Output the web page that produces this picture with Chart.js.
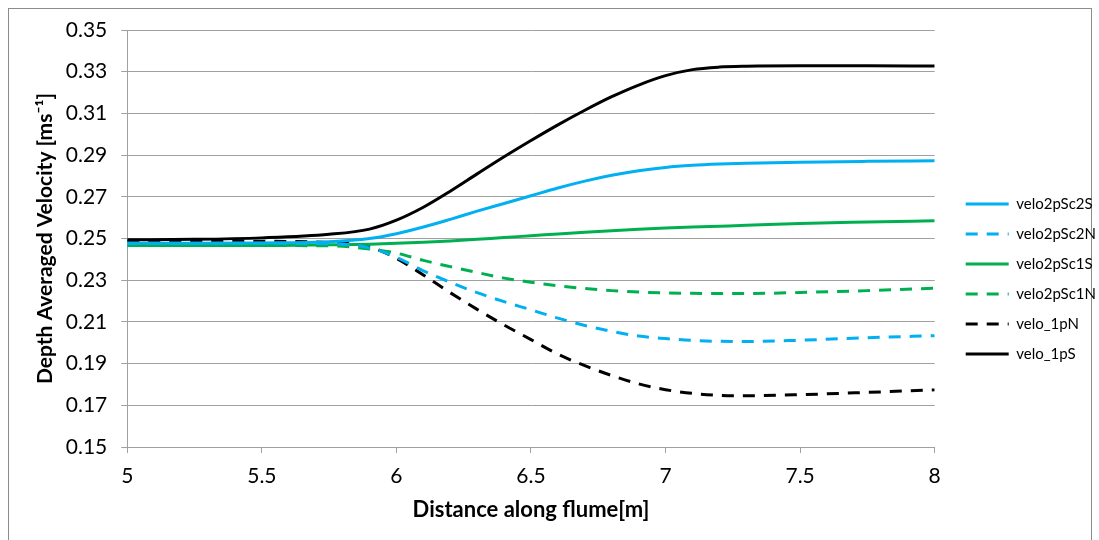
<!DOCTYPE html>
<html>
<head>
<meta charset="utf-8">
<script src="https://cdn.jsdelivr.net/npm/chart.js@4/dist/chart.umd.min.js"></script>
<style>
  html, body { margin: 0; padding: 0; background: #fff; }
  #wrap { width: 1099px; height: 540px; position: relative; }
</style>
</head>
<body>
<div id="wrap"><canvas id="myChart" width="1099" height="540"></canvas></div>
<script>
// distance along flume [m]
let distance = [5, 5.25, 5.5, 5.75, 5.9, 6, 6.1, 6.2, 6.3, 6.4, 6.5, 6.6, 6.7, 6.8, 6.9, 7, 7.1, 7.2, 7.3, 7.5, 7.75, 8]

let velo2pSc2S = [0.2477, 0.2477, 0.2479, 0.2485, 0.2500, 0.2523, 0.2555, 0.2592, 0.2631, 0.2668, 0.2705, 0.2742, 0.2775, 0.2803, 0.2825, 0.2841, 0.2851, 0.2857, 0.2861, 0.2866, 0.2870, 0.2873]
let velo2pSc2N = [0.2477, 0.2477, 0.2477, 0.2475, 0.2455, 0.2410, 0.2345, 0.2290, 0.2240, 0.2197, 0.2158, 0.2118, 0.2083, 0.2055, 0.2032, 0.2020, 0.2011, 0.2007, 0.2006, 0.2012, 0.2024, 0.2034]
let velo2pSc1S = [0.2466, 0.2466, 0.2466, 0.2470, 0.2473, 0.2477, 0.2482, 0.2488, 0.2496, 0.2505, 0.2513, 0.2522, 0.2530, 0.2537, 0.2544, 0.2550, 0.2555, 0.2559, 0.2563, 0.2572, 0.2579, 0.2585]
let velo2pSc1N = [0.2466, 0.2466, 0.2466, 0.2465, 0.2450, 0.2430, 0.2395, 0.2365, 0.2337, 0.2310, 0.2290, 0.2273, 0.2260, 0.2250, 0.2243, 0.2239, 0.2237, 0.2236, 0.2236, 0.2241, 0.2250, 0.2262]
let velo_1pN   = [0.2488, 0.2488, 0.2487, 0.2480, 0.2460, 0.2405, 0.2325, 0.2240, 0.2160, 0.2085, 0.2015, 0.1945, 0.1890, 0.1843, 0.1803, 0.1775, 0.1757, 0.1748, 0.1746, 0.1751, 0.1762, 0.1774]
let velo_1pS   = [0.2494, 0.2496, 0.2503, 0.2520, 0.2545, 0.2588, 0.2650, 0.2727, 0.2810, 0.2892, 0.2970, 0.3045, 0.3115, 0.3180, 0.3236, 0.3281, 0.3310, 0.3322, 0.3326, 0.3328, 0.3328, 0.3327]

let yTicks = [0.15, 0.35, 0.02]   // min, max, step
let xTicks = [5, 8, 0.5]

const BLUE = '#00b0f0', GREEN = '#00b050', BLACK = '#000000'
const DASH = [12, 9]

function series(label, values, color, dashed) {
    return {
        label: label,
        data: distance.map((x, i) => ({x: x, y: values[i]})),
        borderColor: color,
        backgroundColor: color,
        borderWidth: 3,
        borderDash: dashed ? DASH : [],
        pointRadius: 0,
        cubicInterpolationMode: 'monotone',
        fill: false
    }
}

// white page + grey frame like the exported chart
const frame = {
    id: 'frame',
    beforeDraw(chart) {
        const c = chart.ctx
        c.save()
        c.fillStyle = '#fff'
        c.fillRect(0, 0, chart.width, chart.height)
        c.strokeStyle = '#8c8c8c'
        c.lineWidth = 1
        c.strokeRect(8.5, 8.5, 1083, 545)
        c.restore()
    }
}

Chart.defaults.font.family = 'Lato, "Open Sans", sans-serif'
Chart.defaults.color = '#000'

var ctx = document.getElementById('myChart').getContext('2d');
var myChart = new Chart(ctx, {
    type: 'line',
    data: {
        datasets: [
            series('velo2pSc2S', velo2pSc2S, BLUE, false),
            series('velo2pSc2N', velo2pSc2N, BLUE, true),
            series('velo2pSc1S', velo2pSc1S, GREEN, false),
            series('velo2pSc1N', velo2pSc1N, GREEN, true),
            series('velo_1pN', velo_1pN, BLACK, true),
            series('velo_1pS', velo_1pS, BLACK, false)
        ]
    },
    options: {
        responsive: false,
        animation: false,
        layout: {
            padding: {top: 30, bottom: 12, left: 28, right: -7}
        },
        scales: {
            x: {
                type: 'linear',
                min: xTicks[0],
                max: xTicks[1],
                grid: {display: true, drawOnChartArea: false, drawTicks: true, tickLength: 6, color: '#a0a0a0'},
                border: {display: true, color: '#a0a0a0'},
                ticks: {
                    stepSize: xTicks[2],
                    padding: 10.4,
                    font: {size: 21},
                    callback: v => String(+v.toFixed(2))
                },
                title: {
                    display: true,
                    text: 'Distance along flume[m]',
                    font: {size: 22, weight: 'bold', lineHeight: 1},
                    padding: {top: 0, bottom: 7}
                }
            },
            y: {
                min: yTicks[0],
                max: yTicks[1],
                grid: {color: '#a0a0a0', tickLength: 6},
                border: {display: true, color: '#a0a0a0'},
                ticks: {
                    stepSize: yTicks[2],
                    padding: 14,
                    font: {size: 21},
                    callback: v => v.toFixed(2)
                },
                title: {
                    display: true,
                    text: 'Depth Averaged Velocity [ms⁻¹]',
                    font: {size: 21, weight: 'bold', lineHeight: 1},
                    padding: {top: 6.5, bottom: -3.7}
                }
            },
            // gap between plot and legend
            spacer: {
                position: 'right',
                display: true,
                grid: {display: false, drawTicks: false},
                border: {display: false},
                ticks: {display: false},
                afterFit(s) { s.width = 16 }
            }
        },
        plugins: {
            legend: {
                display: true,
                position: 'right',
                align: 'center',
                labels: {
                    usePointStyle: true,
                    pointStyle: 'line',
                    pointStyleWidth: 43,
                    boxHeight: 15,
                    padding: 15,
                    color: '#000',
                    font: {size: 15},
                    generateLabels(chart) {
                        return chart.data.datasets.map((ds, i) => ({
                            text: ds.label,
                            strokeStyle: ds.borderColor,
                            fillStyle: ds.borderColor,
                            lineWidth: ds.borderWidth,
                            lineDash: ds.borderDash,
                            pointStyle: 'line',
                            fontColor: '#000',
                            hidden: false,
                            datasetIndex: i
                        }))
                    }
                }
            },
            tooltip: {enabled: false}
        }
    },
    plugins: [frame]
});
</script>
</body>
</html>
